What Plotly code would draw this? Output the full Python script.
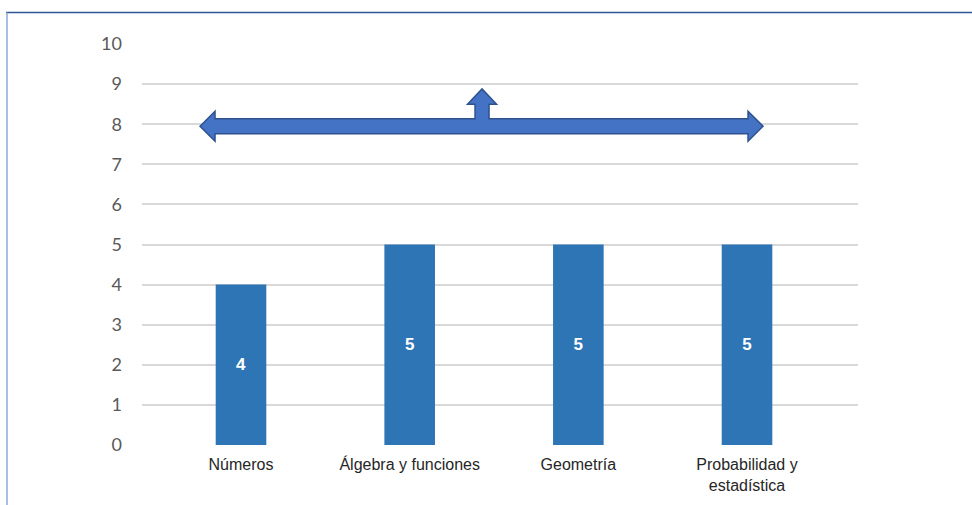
import plotly.graph_objects as go

categories = ["Números", "Álgebra y funciones", "Geometría", "Probabilidad y<br>estadística"]
values = [4, 5, 5, 5]
y_ticks = list(range(0, 11))

W, H = 972, 505
L, R, T, B = 142, 114, 44, 60
x_idx = list(range(len(categories)))

fig = go.Figure()
fig.add_trace(go.Bar(
    x=x_idx, y=values, width=0.3,
    marker=dict(color="#2E75B6", line=dict(width=0)),
    text=[str(v) for v in values], textposition="inside", insidetextanchor="middle",
    textfont=dict(family="Liberation Sans, Arial, sans-serif", size=17, color="white", weight="bold"),
    hoverinfo="skip",
))

# Arrow shape (data units)
yc, sh, hh = 7.95, 0.187, 0.374
xl_tip, xl_base = -0.243, -0.154
xr_tip, xr_base = 3.095, 3.006
xu, sw, hw = 1.429, 0.0415, 0.086
yu_base, yu_tip = 8.50, 8.88
pts = [
    (xl_tip, yc), (xl_base, yc + hh), (xl_base, yc + sh),
    (xu - sw, yc + sh), (xu - sw, yu_base), (xu - hw, yu_base), (xu, yu_tip),
    (xu + hw, yu_base), (xu + sw, yu_base), (xu + sw, yc + sh),
    (xr_base, yc + sh), (xr_base, yc + hh), (xr_tip, yc), (xr_base, yc - hh),
    (xr_base, yc - sh), (xl_base, yc - sh), (xl_base, yc - hh),
]
path = "M " + " L ".join(f"{x},{y}" for x, y in pts) + " Z"
fig.add_shape(type="path", path=path, xref="x", yref="y",
              fillcolor="#4472C4", line=dict(color="#2F528F", width=1.5), layer="above")

# Frame lines (paper coords from pixels)
def px_to_paper_x(px):
    return (px - L) / (W - L - R)

def py_to_paper_y(py):
    return (H - B - py) / (H - T - B)

fig.add_shape(type="line", xref="paper", yref="paper",
              x0=px_to_paper_x(6), x1=px_to_paper_x(972), y0=py_to_paper_y(12.5), y1=py_to_paper_y(12.5),
              line=dict(color="#2F5597", width=1.5))
fig.add_shape(type="line", xref="paper", yref="paper",
              x0=px_to_paper_x(7), x1=px_to_paper_x(7), y0=py_to_paper_y(12.5), y1=py_to_paper_y(505),
              line=dict(color="#8EA9DB", width=1.5))

fig.update_layout(
    width=W, height=H,
    margin=dict(l=L, r=R, t=T, b=B, autoexpand=False),
    paper_bgcolor="white", plot_bgcolor="white",
    showlegend=False,
    xaxis=dict(
        range=[-0.587, 3.658], tickvals=x_idx, ticktext=categories,
        showgrid=False, zeroline=False, showline=False, ticks="", ticklabelstandoff=8,
        tickfont=dict(family="Liberation Sans, Arial, sans-serif", size=16, color="#262626"),
        automargin=False, fixedrange=True,
    ),
    yaxis=dict(
        range=[0, 10], tickvals=y_ticks, showgrid=True, gridcolor="#D9D9D9", gridwidth=2,
        zeroline=False, showline=False, ticks="", ticklabelstandoff=19,
        tickfont=dict(family="Lato, sans-serif", size=18, color="#595959"),
        automargin=False, fixedrange=True,
    ),
)

fig.write_html("out.html", config={"displayModeBar": False},
               post_script="document.body.style.margin='0';document.body.style.overflow='hidden';")
